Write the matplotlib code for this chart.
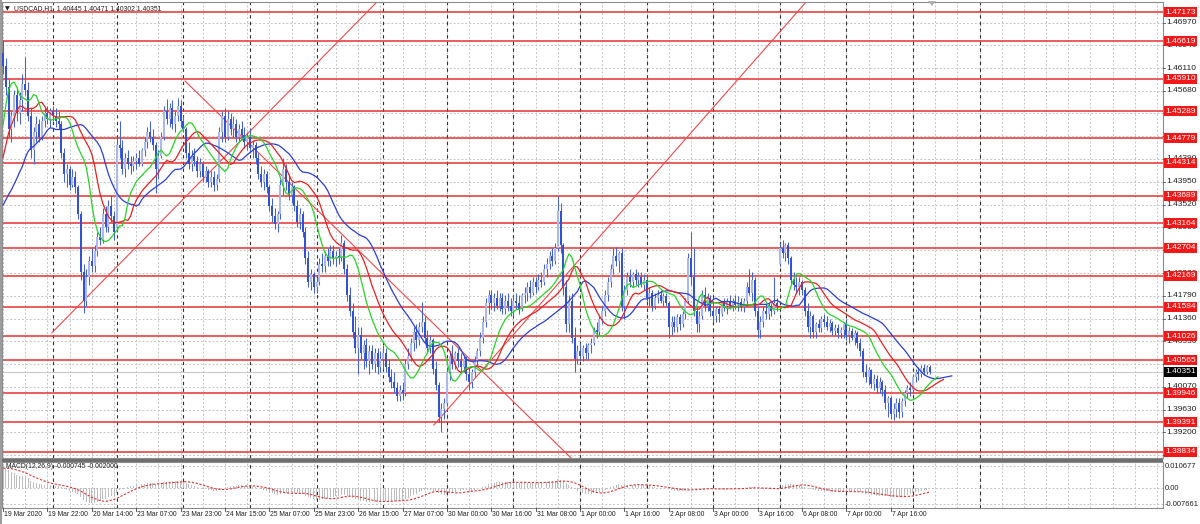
import matplotlib
matplotlib.use("Agg")
import matplotlib.pyplot as plt
import matplotlib.transforms as mtrans
from matplotlib.patches import Rectangle, Polygon
import numpy as np
import logging
logging.getLogger('matplotlib.font_manager').setLevel(logging.ERROR)

plt.rcParams['font.family'] = ['Liberation Sans', 'DejaVu Sans']

# ---------------- data (USDCAD H1) ----------------
opens = [
 1.4640,1.4615,1.4575,1.4495,1.4520,1.4560,1.4525,1.4550,1.4580,1.4570,
 1.4520,1.4455,1.4490,1.4505,1.4480,1.4510,1.4525,1.4515,1.4530,1.4520,
 1.4510,1.4505,1.4450,1.4410,1.4420,1.4390,1.4405,1.4385,1.4335,1.4225,
 1.4170,1.4215,1.4245,1.4235,1.4265,1.4290,1.4285,1.4335,1.4310,1.4350,
 1.4330,1.4310,1.4465,1.4460,1.4420,1.4440,1.4430,1.4425,1.4435,1.4440,
 1.4430,1.4455,1.4470,1.4490,1.4480,1.4465,1.4420,1.4445,1.4480,1.4530,
 1.4515,1.4535,1.4505,1.4520,1.4540,1.4510,1.4495,1.4450,1.4430,1.4445,
 1.4435,1.4415,1.4430,1.4405,1.4415,1.4395,1.4405,1.4390,1.4400,1.4490,
 1.4520,1.4480,1.4515,1.4495,1.4505,1.4480,1.4495,1.4485,1.4470,1.4480,
 1.4460,1.4465,1.4440,1.4410,1.4395,1.4410,1.4385,1.4350,1.4330,1.4315,
 1.4335,1.4390,1.4420,1.4395,1.4370,1.4385,1.4350,1.4320,1.4335,1.4300,
 1.4250,1.4205,1.4220,1.4195,1.4205,1.4240,1.4235,1.4255,1.4245,1.4265,
 1.4250,1.4255,1.4250,1.4280,1.4230,1.4180,1.4150,1.4110,1.4080,1.4105,
 1.4070,1.4085,1.4055,1.4075,1.4050,1.4070,1.4045,1.4060,1.4070,1.4045,
 1.4025,1.4015,1.4005,1.3990,1.4000,1.3995,1.4050,1.4065,1.4090,1.4110,
 1.4095,1.4120,1.4130,1.4100,1.4080,1.4095,1.4040,1.4010,1.3950,1.3965,
 1.3975,1.4035,1.4065,1.4050,1.4070,1.4055,1.4045,1.4060,1.4030,1.4015,
 1.4035,1.4055,1.4075,1.4100,1.4130,1.4165,1.4180,1.4165,1.4175,1.4160,
 1.4175,1.4155,1.4170,1.4160,1.4150,1.4170,1.4165,1.4155,1.4180,1.4185,
 1.4195,1.4185,1.4205,1.4195,1.4210,1.4205,1.4230,1.4240,1.4255,1.4245,
 1.4270,1.4340,1.4275,1.4195,1.4125,1.4170,1.4100,1.4060,1.4075,1.4065,
 1.4080,1.4070,1.4085,1.4090,1.4115,1.4110,1.4135,1.4150,1.4180,1.4205,
 1.4230,1.4255,1.4245,1.4260,1.4160,1.4190,1.4215,1.4205,1.4220,1.4210,
 1.4215,1.4200,1.4210,1.4175,1.4185,1.4160,1.4175,1.4180,1.4170,1.4178,
 1.4165,1.4120,1.4130,1.4120,1.4138,1.4125,1.4145,1.4170,1.4250,1.4215,
 1.4150,1.4125,1.4140,1.4180,1.4160,1.4175,1.4150,1.4140,1.4155,1.4145,
 1.4165,1.4160,1.4170,1.4160,1.4170,1.4162,1.4168,1.4158,1.4170,1.4195,
 1.4185,1.4210,1.4150,1.4115,1.4130,1.4150,1.4145,1.4160,1.4150,1.4165,
 1.4240,1.4270,1.4260,1.4275,1.4250,1.4210,1.4200,1.4195,1.4205,1.4190,
 1.4150,1.4120,1.4140,1.4110,1.4125,1.4118,1.4135,1.4130,1.4120,1.4128,
 1.4112,1.4118,1.4108,1.4115,1.4125,1.4105,1.4112,1.4100,1.4108,1.4090,
 1.4075,1.4035,1.4025,1.4038,1.4012,1.4022,1.4005,1.4015,1.4000,1.3975,
 1.3985,1.3955,1.3965,1.3975,1.3958,1.3980,1.3995,1.4005,1.4000,1.4025,
 1.4035,1.4030,1.4042,1.4035,1.40445]
highs = [
 1.4665,1.4630,1.4590,1.4530,1.4570,1.4575,1.4565,1.4600,1.4632,1.4585,
 1.4535,1.4500,1.4520,1.4515,1.4520,1.4535,1.4540,1.4535,1.4540,1.4535,
 1.4530,1.4510,1.4460,1.4430,1.4425,1.4420,1.4415,1.4390,1.4340,1.4240,
 1.4230,1.4255,1.4270,1.4275,1.4300,1.4310,1.4345,1.4350,1.4360,1.4370,
 1.4340,1.4480,1.4510,1.4475,1.4450,1.4455,1.4445,1.4445,1.4450,1.4455,
 1.4460,1.4480,1.4500,1.4510,1.4495,1.4470,1.4455,1.4490,1.4540,1.4552,
 1.4545,1.4550,1.4530,1.4555,1.4550,1.4520,1.4500,1.4470,1.4455,1.4460,
 1.4445,1.4440,1.4435,1.4425,1.4420,1.4415,1.4415,1.4410,1.4500,1.4530,
 1.4535,1.4530,1.4525,1.4520,1.4515,1.4505,1.4510,1.4500,1.4490,1.4495,
 1.4475,1.4470,1.4450,1.4425,1.4420,1.4415,1.4390,1.4365,1.4345,1.4340,
 1.4400,1.4440,1.4430,1.4410,1.4395,1.4390,1.4360,1.4345,1.4340,1.4310,
 1.4265,1.4230,1.4225,1.4215,1.4250,1.4260,1.4265,1.4270,1.4275,1.4275,
 1.4265,1.4270,1.4295,1.4285,1.4240,1.4195,1.4165,1.4140,1.4120,1.4120,
 1.4095,1.4100,1.4085,1.4085,1.4080,1.4080,1.4075,1.4085,1.4080,1.4060,
 1.4040,1.4035,1.4015,1.4010,1.4015,1.4060,1.4080,1.4100,1.4120,1.4125,
 1.4130,1.4168,1.4140,1.4115,1.4105,1.4100,1.4055,1.4015,1.3975,1.3985,
 1.4045,1.4075,1.4085,1.4075,1.4080,1.4070,1.4065,1.4065,1.4045,1.4040,
 1.4065,1.4080,1.4110,1.4140,1.4175,1.4190,1.4190,1.4185,1.4190,1.4185,
 1.4185,1.4180,1.4185,1.4175,1.4180,1.4185,1.4180,1.4185,1.4195,1.4205,
 1.4210,1.4215,1.4215,1.4220,1.4225,1.4240,1.4250,1.4265,1.4270,1.4280,
 1.4369,1.4355,1.4280,1.4210,1.4180,1.4185,1.4120,1.4085,1.4090,1.4085,
 1.4090,1.4090,1.4100,1.4120,1.4130,1.4140,1.4160,1.4190,1.4215,1.4240,
 1.4270,1.4272,1.4265,1.4270,1.4200,1.4225,1.4230,1.4225,1.4230,1.4225,
 1.4225,1.4220,1.4215,1.4195,1.4190,1.4185,1.4190,1.4190,1.4185,1.4185,
 1.4170,1.4140,1.4140,1.4145,1.4145,1.4150,1.4175,1.4260,1.4300,1.4270,
 1.4160,1.4150,1.4190,1.4195,1.4185,1.4180,1.4165,1.4160,1.4160,1.4170,
 1.4175,1.4175,1.4180,1.4175,1.4180,1.4178,1.4175,1.4175,1.4205,1.4230,
 1.4225,1.4215,1.4160,1.4140,1.4160,1.4165,1.4165,1.4165,1.4215,1.4175,
 1.4280,1.4285,1.4280,1.4282,1.4255,1.4225,1.4215,1.4215,1.4210,1.4195,
 1.4165,1.4150,1.4145,1.4130,1.4135,1.4140,1.4145,1.4140,1.4135,1.4132,
 1.4125,1.4125,1.4120,1.4130,1.4135,1.4120,1.4118,1.4115,1.4112,1.4100,
 1.4080,1.4050,1.4045,1.4040,1.4030,1.4028,1.4025,1.4020,1.4010,1.3990,
 1.3990,1.3975,1.3985,1.3985,1.3985,1.4000,1.4010,1.4015,1.4030,1.4040,
 1.4045,1.4048,1.4050,1.4048,1.40471]
lows = [
 1.4600,1.4560,1.4480,1.4470,1.4500,1.4510,1.4505,1.4530,1.4560,1.4510,
 1.4440,1.4430,1.4470,1.4470,1.4475,1.4500,1.4505,1.4500,1.4510,1.4500,
 1.4495,1.4440,1.4395,1.4385,1.4380,1.4385,1.4375,1.4325,1.4210,1.4147,
 1.4160,1.4200,1.4225,1.4225,1.4255,1.4275,1.4280,1.4300,1.4300,1.4320,
 1.4285,1.4300,1.4440,1.4410,1.4405,1.4420,1.4410,1.4415,1.4420,1.4425,
 1.4425,1.4445,1.4460,1.4470,1.4455,1.4374,1.4400,1.4440,1.4475,1.4505,
 1.4500,1.4495,1.4490,1.4510,1.4500,1.4490,1.4440,1.4420,1.4415,1.4425,
 1.4405,1.4405,1.4395,1.4395,1.4385,1.4385,1.4378,1.4380,1.4395,1.4470,
 1.4470,1.4475,1.4485,1.4480,1.4470,1.4470,1.4475,1.4460,1.4455,1.4450,
 1.4440,1.4430,1.4400,1.4385,1.4380,1.4375,1.4340,1.4320,1.4305,1.4300,
 1.4325,1.4370,1.4380,1.4360,1.4355,1.4340,1.4310,1.4305,1.4290,1.4240,
 1.4195,1.4190,1.4185,1.4185,1.4200,1.4225,1.4225,1.4235,1.4235,1.4240,
 1.4235,1.4240,1.4245,1.4220,1.4170,1.4140,1.4100,1.4070,1.4030,1.4060,
 1.4040,1.4045,1.4030,1.4040,1.4035,1.4030,1.4035,1.4040,1.4035,1.4015,
 1.4005,1.3995,1.3980,1.3980,1.3982,1.3990,1.4040,1.4055,1.4075,1.4080,
 1.4085,1.4110,1.4090,1.4070,1.4070,1.4030,1.4000,1.3940,1.3920,1.3945,
 1.3970,1.4020,1.4040,1.4040,1.4045,1.4035,1.4035,1.4020,1.4000,1.4005,
 1.4025,1.4045,1.4065,1.4090,1.4120,1.4145,1.4155,1.4150,1.4155,1.4150,
 1.4145,1.4145,1.4150,1.4140,1.4140,1.4155,1.4145,1.4150,1.4165,1.4170,
 1.4175,1.4180,1.4185,1.4190,1.4195,1.4200,1.4215,1.4230,1.4235,1.4240,
 1.4265,1.4260,1.4180,1.4110,1.4110,1.4090,1.4035,1.4050,1.4055,1.4055,
 1.4060,1.4060,1.4070,1.4085,1.4100,1.4105,1.4125,1.4140,1.4170,1.4195,
 1.4220,1.4235,1.4225,1.4150,1.4135,1.4180,1.4195,1.4195,1.4200,1.4195,
 1.4195,1.4190,1.4170,1.4160,1.4150,1.4155,1.4165,1.4165,1.4160,1.4160,
 1.4100,1.4105,1.4110,1.4110,1.4115,1.4120,1.4135,1.4165,1.4200,1.4140,
 1.4110,1.4110,1.4135,1.4150,1.4150,1.4140,1.4130,1.4130,1.4130,1.4140,
 1.4150,1.4145,1.4155,1.4150,1.4155,1.4150,1.4150,1.4148,1.4160,1.4180,
 1.4170,1.4140,1.4100,1.4100,1.4120,1.4135,1.4135,1.4140,1.4145,1.4150,
 1.4235,1.4250,1.4245,1.4240,1.4200,1.4190,1.4185,1.4180,1.4180,1.4140,
 1.4110,1.4100,1.4100,1.4100,1.4110,1.4110,1.4120,1.4115,1.4110,1.4105,
 1.4105,1.4100,1.4100,1.4100,1.4095,1.4090,1.4095,1.4085,1.4080,1.4065,
 1.4025,1.4015,1.4010,1.4005,1.4000,1.3995,1.3995,1.3990,1.3965,1.3950,
 1.3945,1.3944,1.3950,1.3948,1.3950,1.3970,1.3985,1.3990,1.3995,1.4015,
 1.4020,1.4025,1.4028,1.4030,1.40302]
closes = [
 1.4615,1.4575,1.4495,1.4520,1.4560,1.4525,1.4550,1.4580,1.4570,1.4520,
 1.4455,1.4490,1.4505,1.4480,1.4510,1.4525,1.4515,1.4530,1.4520,1.4510,
 1.4505,1.4450,1.4410,1.4420,1.4390,1.4405,1.4385,1.4335,1.4225,1.4170,
 1.4215,1.4245,1.4235,1.4265,1.4290,1.4285,1.4335,1.4310,1.4350,1.4330,
 1.4300,1.4465,1.4460,1.4420,1.4440,1.4430,1.4425,1.4435,1.4440,1.4430,
 1.4455,1.4470,1.4490,1.4480,1.4465,1.4420,1.4445,1.4480,1.4530,1.4515,
 1.4535,1.4505,1.4520,1.4540,1.4510,1.4495,1.4450,1.4430,1.4445,1.4435,
 1.4415,1.4430,1.4405,1.4415,1.4395,1.4405,1.4390,1.4400,1.4490,1.4520,
 1.4480,1.4515,1.4495,1.4505,1.4480,1.4495,1.4485,1.4470,1.4480,1.4460,
 1.4465,1.4440,1.4410,1.4395,1.4410,1.4385,1.4350,1.4330,1.4315,1.4335,
 1.4390,1.4420,1.4395,1.4370,1.4385,1.4350,1.4320,1.4335,1.4300,1.4250,
 1.4205,1.4220,1.4195,1.4205,1.4240,1.4235,1.4255,1.4245,1.4265,1.4250,
 1.4255,1.4250,1.4280,1.4230,1.4180,1.4150,1.4110,1.4080,1.4105,1.4070,
 1.4085,1.4055,1.4075,1.4050,1.4070,1.4045,1.4060,1.4070,1.4045,1.4025,
 1.4015,1.4005,1.3990,1.4000,1.3995,1.4050,1.4065,1.4090,1.4110,1.4095,
 1.4120,1.4130,1.4100,1.4080,1.4095,1.4040,1.4010,1.3950,1.3965,1.3975,
 1.4035,1.4065,1.4050,1.4070,1.4055,1.4045,1.4060,1.4030,1.4015,1.4035,
 1.4055,1.4075,1.4100,1.4130,1.4165,1.4180,1.4165,1.4175,1.4160,1.4175,
 1.4155,1.4170,1.4160,1.4150,1.4170,1.4165,1.4155,1.4180,1.4185,1.4195,
 1.4185,1.4205,1.4195,1.4210,1.4205,1.4230,1.4240,1.4255,1.4245,1.4270,
 1.4340,1.4275,1.4195,1.4125,1.4170,1.4100,1.4060,1.4075,1.4065,1.4080,
 1.4070,1.4085,1.4090,1.4115,1.4110,1.4135,1.4150,1.4180,1.4205,1.4230,
 1.4255,1.4245,1.4260,1.4160,1.4190,1.4215,1.4205,1.4220,1.4210,1.4215,
 1.4200,1.4210,1.4175,1.4185,1.4160,1.4175,1.4180,1.4170,1.4178,1.4165,
 1.4120,1.4130,1.4120,1.4138,1.4125,1.4145,1.4170,1.4250,1.4215,1.4150,
 1.4125,1.4140,1.4180,1.4160,1.4175,1.4150,1.4140,1.4155,1.4145,1.4165,
 1.4160,1.4170,1.4160,1.4170,1.4162,1.4168,1.4158,1.4170,1.4195,1.4185,
 1.4210,1.4150,1.4115,1.4130,1.4150,1.4145,1.4160,1.4150,1.4165,1.4160,
 1.4270,1.4260,1.4275,1.4250,1.4210,1.4200,1.4195,1.4205,1.4190,1.4150,
 1.4120,1.4140,1.4110,1.4125,1.4118,1.4135,1.4130,1.4120,1.4128,1.4112,
 1.4118,1.4108,1.4115,1.4125,1.4105,1.4112,1.4100,1.4108,1.4090,1.4075,
 1.4035,1.4025,1.4038,1.4012,1.4022,1.4005,1.4015,1.4000,1.3975,1.3985,
 1.3955,1.3965,1.3975,1.3958,1.3980,1.3995,1.4005,1.4000,1.4025,1.4035,
 1.4030,1.4042,1.4035,1.4045,1.40351]

time_labels = ["19 Mar 2020", "19 Mar 22:00", "20 Mar 14:00", "23 Mar 07:00", "23 Mar 23:00",
               "24 Mar 15:00", "25 Mar 07:00", "25 Mar 23:00", "26 Mar 15:00", "27 Mar 07:00",
               "30 Mar 00:00", "30 Mar 16:00", "31 Mar 08:00", "1 Apr 00:00", "1 Apr 16:00",
               "2 Apr 08:00", "3 Apr 00:00", "3 Apr 16:00", "6 Apr 08:00", "7 Apr 00:00", "7 Apr 16:00"]
time_label_bars = [0, 16, 32, 48, 64, 80, 96, 112, 128, 144, 160, 176, 192, 208, 224, 240, 256, 272, 288, 304, 320]
day_start_bars = [18, 41, 65, 89, 113, 137, 160, 184, 208, 232, 256, 280, 304, 328, 352]

price_ticks = [1.46970, 1.46540, 1.46110, 1.45680, 1.45250, 1.44820, 1.44390, 1.43950, 1.43520,
               1.43090, 1.42660, 1.42220, 1.41790, 1.41360, 1.40930, 1.40500, 1.40070, 1.39630,
               1.39200, 1.38770]
level_prices = [1.47173, 1.46619, 1.45910, 1.45289, 1.44779, 1.44314, 1.43689, 1.43164, 1.42704,
                1.42169, 1.41584, 1.41026, 1.40565, 1.39946, 1.39391, 1.38834]
# trend lines: (bar, price) anchors
trend_lines = [((17.6, 1.4109), (113.5, 1.46225)),
               ((155.3, 1.39341), (279.0, 1.46737)),
               ((65.6, 1.45865), (205.5, 1.38677))]
bid_price = 1.40351
title_text = "USDCAD,H1  1.40445 1.40471 1.40302 1.40351"
macd_text = "MACD(12,26,9) -0.000745 -0.002000"
macd_ticks = [0.010677, 0.0, -0.007661]
macd_tick_labels = ["0.010677", "0.00", "-0.007661"]

# indicator start values (before the first bar's own history)
jaw_start = [1.4351, 1.4361, 1.4371, 1.4380, 1.4391, 1.4402, 1.4414, 1.4425]
teeth_start = [1.4442, 1.4465, 1.4488, 1.4503, 1.4516]
lips_start = [1.4503, 1.4541, 1.4569]
ema12_start, ema26_start = 1.4560, 1.4450
macd_start = 0.0095

# ---------------- geometry ----------------
W, H = 1200, 524
X0, DX = 3.07, 2.774          # pixel of bar 0 and pixels per bar
PY0, PK = 1.47401, 0.00018965  # price at pixel row 0, price per pixel


def rect(x0, y0, x1, y1):
    return [x0 / W, 1 - y1 / H, (x1 - x0) / W, (y1 - y0) / H]


fig = plt.figure(figsize=(W / 100, H / 100), dpi=100)
fig.patch.set_facecolor('white')
ax = fig.add_axes(rect(2, 2, 1163, 458))
axm = fig.add_axes(rect(2, 462, 1163, 508))

xl = ((2 - X0) / DX, (1163 - X0) / DX)
for a in (ax, axm):
    a.set_xlim(*xl)
    a.set_xticks([])
    a.set_yticks([])
    a.set_facecolor('white')
    for s in a.spines.values():
        s.set_color('#8c8c8c')
        s.set_linewidth(0.8)
ax.set_ylim(PY0 - PK * 458, PY0 - PK * 2)
axm.set_ylim(-0.00959, 0.01261)

O = np.array(opens); Hh = np.array(highs); L = np.array(lows); C = np.array(closes)
n = len(C)
idx = np.arange(n)

grid_kw = dict(color='#c4c4c4', lw=0.7, ls=(0, (2, 2)), zorder=0)
sep_kw = dict(color='#303030', lw=0.8, ls=(0, (3, 3)), zorder=0.5)
for a in (ax, axm):
    for b in range(0, 420, 8):
        a.axvline(b, **grid_kw)
    for b in day_start_bars:
        a.axvline(b, **sep_kw)
for p in price_ticks:
    ax.axhline(p, **grid_kw)
for v in macd_ticks:
    axm.axhline(v, **grid_kw)

# horizontal levels
for p in level_prices:
    ax.axhline(p, color='#e53030', lw=1.1, zorder=1)
ax.axhline(bid_price, color='#c8c8c8', lw=0.8, zorder=1)

# trend lines (rays)
for (b1, p1), (b2, p2) in trend_lines:
    slope = (p2 - p1) / (b2 - b1)
    xe = 420
    ax.plot([b1, xe], [p1, p1 + slope * (xe - b1)], color='#ef4a4a', lw=0.8, zorder=1.5)

# candles
wick_col = '#4563d6'
ax.vlines(idx, L, Hh, color=wick_col, lw=0.75, zorder=3)
bull = C >= O
bear = ~bull
ax.bar(idx[bull], (C - O)[bull], bottom=O[bull], width=0.72, color='#aab8ee', edgecolor='none', zorder=3.2)
ax.bar(idx[bear], (C - O)[bear], bottom=O[bear], width=0.72, color='#3352cf', edgecolor='none', zorder=3.2)

# Alligator (SMMA of median price, shifted)
med = (Hh + L) / 2.0


def smma(vals, period, state):
    out = []
    for v in vals:
        state = (state * (period - 1) + v) / period
        out.append(state)
    return np.array(out)


jaw = np.concatenate([jaw_start, smma(med, 13, jaw_start[-1])])
teeth = np.concatenate([teeth_start, smma(med, 8, teeth_start[-1])])
lips = np.concatenate([lips_start, smma(med, 5, lips_start[-1])])
ax.plot(np.arange(len(jaw)), jaw, color='#2b3fcf', lw=0.9, zorder=4)
ax.plot(np.arange(len(teeth)), teeth, color='#e52222', lw=0.9, zorder=4.1)
ax.plot(np.arange(len(lips)), lips, color='#28d428', lw=0.9, zorder=4.2)


# MACD
def ema(vals, period, state):
    k = 2.0 / (period + 1)
    out = []
    for v in vals:
        state = state + k * (v - state)
        out.append(state)
    return np.array(out)


macd = ema(C, 12, ema12_start) - ema(C, 26, ema26_start)
padded = np.concatenate([[macd_start] * 8, macd])
signal = np.array([padded[i:i + 9].mean() for i in range(n)])
axm.bar(idx, macd, width=0.35, color='#bdbdbd', edgecolor='none', zorder=2)
axm.plot(idx, signal, color='#e03030', lw=0.8, ls=(0, (2, 1.5)), zorder=3)

# ---------------- text ----------------
fs = 6.0
fs_small = 4.9
tr_price = mtrans.blended_transform_factory(fig.transFigure, ax.transData)
tr_macd = mtrans.blended_transform_factory(fig.transFigure, axm.transData)
for p in price_ticks:
    fig.text(1166 / W, p, f"{p:.5f}", transform=tr_price, fontsize=fs, color='#202020',
             va='center', ha='left')
    fig.lines.append(plt.Line2D([1163 / W, 1165 / W], [p, p], transform=tr_price, color='#505050', lw=0.6))
for p in level_prices:
    fig.text(1165 / W, p, f"{p:.5f}", transform=tr_price, fontsize=fs, color='white',
             va='center', ha='left', zorder=5,
             bbox=dict(boxstyle='square,pad=0.18', fc='#f01818', ec='none'))
fig.text(1165 / W, bid_price, f"{bid_price:.5f}", transform=tr_price, fontsize=fs, color='white',
         va='center', ha='left', zorder=5,
         bbox=dict(boxstyle='square,pad=0.18', fc='#000000', ec='none'))
for v, t in zip(macd_ticks, macd_tick_labels):
    fig.text(1165 / W, v, t, transform=tr_macd, fontsize=5.5, color='#202020', va='center', ha='left')

for b, t in zip(time_label_bars, time_labels):
    xp = X0 + DX * b
    fig.text((xp + 1) / W, 1 - 515 / H, t, fontsize=fs_small, color='#202020', va='center', ha='left')
    fig.lines.append(plt.Line2D([xp / W, xp / W], [1 - 508 / H, 1 - 511 / H], transform=fig.transFigure,
                                color='#404040', lw=0.6))

fig.text(5 / W, 1 - 8.5 / H, "\u25BC", fontsize=4.5, color='#202020', va='center', ha='left',
         family='DejaVu Sans')
fig.text(14 / W, 1 - 8.5 / H, title_text, fontsize=fs_small, color='#202020', va='center', ha='left')
fig.text(6 / W, 1 - 467 / H, macd_text, fontsize=fs_small, color='#202020', va='center', ha='left')

# frame decorations
fig.patches.append(Rectangle((0, 0), 2 / W, 1, transform=fig.transFigure, fc='#9c9c9c', ec='none'))
fig.patches.append(Rectangle((2 / W, 1 - 462 / H), 1161 / W, 3.5 / H, transform=fig.transFigure,
                             fc='#6e6e6e', ec='none'))
fig.patches.append(Polygon([[928 / W, 1 - 1 / H], [936 / W, 1 - 1 / H], [932 / W, 1 - 6 / H]], closed=True,
                           transform=fig.transFigure, fc='#b0b0b0', ec='none'))

fig.savefig('out.png', dpi=100)
